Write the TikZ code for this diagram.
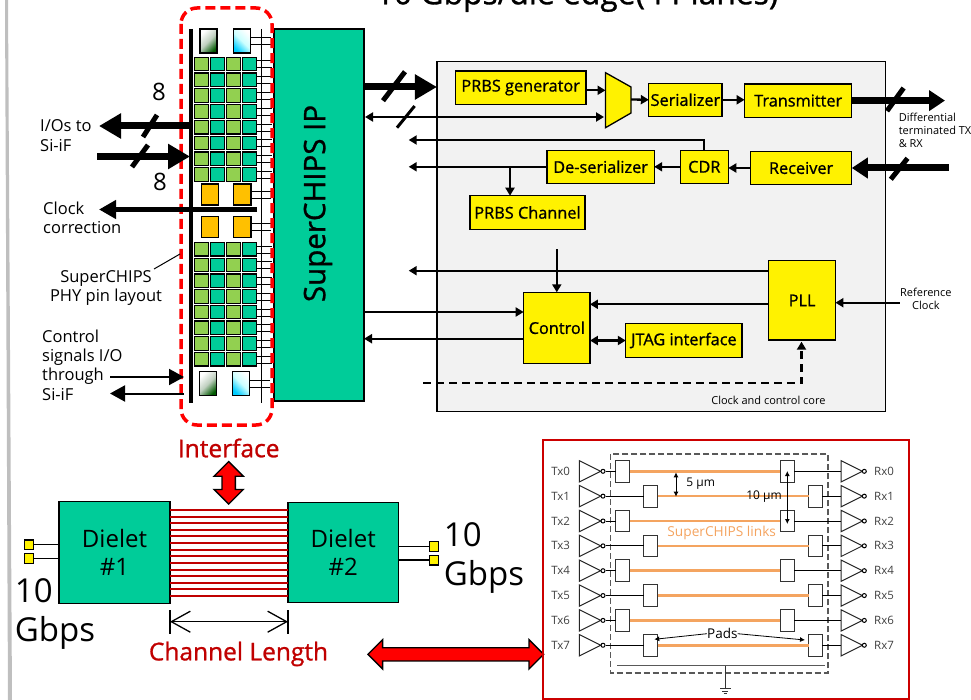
\documentclass[tikz,border=0pt]{standalone}
\usepackage{fontspec}
\setmainfont{Open Sans}
\newfontfamily\semifont{Open Sans}[FakeBold=1]
\usetikzlibrary{positioning,arrows.meta,shapes.geometric,shapes.arrows,calc}
\definecolor{ipteal}{RGB}{0,204,153}
\definecolor{pingreen}{RGB}{146,208,80}
\definecolor{pinorange}{RGB}{255,192,0}
\definecolor{coregray}{RGB}{242,242,242}
\definecolor{darkred}{RGB}{192,0,0}
\definecolor{boxred}{RGB}{204,0,0}
\definecolor{linkorange}{RGB}{244,164,96}
\begin{document}
\begin{tikzpicture}[
  x=1pt, y=-1pt,
  font=\fontsize{15}{18}\selectfont,
  ybox/.style={draw, fill=yellow, line width=1.3pt, inner sep=0pt, outer sep=0pt, font=\fontsize{16.3}{18}\semifont},
  pin/.style={draw, line width=1.2pt, inner sep=0pt, outer sep=0pt, minimum size=13.5pt},
  toppad/.style={draw, line width=1.3pt, inner sep=0pt, outer sep=0pt, minimum width=17pt, minimum height=24pt},
  greenpad/.style={toppad, top color=white, bottom color=green!35!black, middle color=green!25!black!25!white, shading angle=45},
  bluepad/.style={toppad, top color=white, bottom color=cyan!80!blue, middle color=cyan!20!white, shading angle=-45},
  opad/.style={draw, fill=pinorange, line width=1.3pt, inner sep=0pt, outer sep=0pt, minimum width=17.5pt, minimum height=21pt},
  lbl/.style={align=left, inner sep=0pt, anchor=west, font=\fontsize{16.5}{19.3}\selectfont},
  small/.style={align=left, inner sep=0pt, font=\fontsize{11}{13}\selectfont},
  redlbl/.style={inner sep=0pt, text=darkred, font=\fontsize{24.5}{28}\semifont},
  big/.style={align=left, inner sep=0pt, anchor=west, font=\fontsize{33}{38.5}\selectfont},
  fatarr/.style={line width=7pt, -{Triangle[length=22pt,width=24pt]}},
  slash/.style={line width=5pt},
  wirearr/.style={line width=2.3pt, -{Triangle[length=8pt,width=9pt]}},
  redarr/.style={draw, fill=red, line width=1.3pt, double arrow, double arrow head extend=8pt, inner xsep=0pt, inner ysep=6pt},
  pad/.style={draw=black!80, fill=white, line width=1pt, inner sep=0pt, outer sep=0pt, minimum width=13.7pt, minimum height=21.7pt},
  bufr/.style={draw=black!85, fill=white, line width=1pt, isosceles triangle, isosceles triangle stretches, shape border rotate=0, minimum width=21.4pt, minimum height=21.4pt, inner sep=0pt, outer sep=0pt, anchor=lower side},
  bub/.style={draw, fill=white, circle, line width=1pt, inner sep=0pt, minimum size=4pt},
  sigtext/.style={inner sep=0pt, text=black!75, font=\fontsize{11.5}{12}\selectfont},
  link/.style={linkorange, line width=2.5pt}
]
\useasboundingbox (0,0) rectangle (971,700);
\fill[black!25] (5,0) -- (8,0) -- (12,700) -- (8,700) -- cycle;
\node[inner sep=0pt, font=\fontsize{31.8}{36}\semifont] (title) at (577,-4) {10 Gbps/die edge(4 Planes)};

% pin layout column and IP block
\node[draw, fill=ipteal, line width=1.3pt, minimum width=90pt, minimum height=372pt, inner sep=0pt, outer sep=0pt] (ip) at (319,215) {};
\node[rotate=90, inner sep=0pt, font=\fontsize{29.5}{30}\semifont] (iplabel) at (318,203.5) {SuperCHIPS IP};
\draw[line width=4pt] (191,29) -- (191,403);
\draw[line width=1.2pt] (261.5,29) -- (261.5,403);
\foreach \yy [count=\r] in {64,79.8,95.6,111.4,127.2,143,158.8,174.6,249.3,265,280.7,296.4,312.1,327.8,343.5,359.2} {
  \node[pin, fill=pingreen] (pinA\r) at (201.5,\yy) {};
  \node[pin, fill=ipteal] (pinB\r) at (217.5,\yy) {};
  \node[pin, fill=pingreen] (pinC\r) at (233.5,\yy) {};
  \node[pin, fill=ipteal] (pinD\r) at (249.5,\yy) {};
  \draw[line width=1pt] ($(pinD\r.east)+(0,-3)$) -- ++(16,0) ($(pinD\r.east)+(0,4)$) -- ++(16,0);
}
\node[greenpad] (gate1) at (208.5,41) {};
\node[bluepad] (gate2) at (242,41) {};
\node[greenpad] (gate3) at (208,383.5) {};
\node[bluepad] (gate4) at (241.3,383.5) {};
\node[opad] (clk1) at (210,194.5) {};
\node[opad] (clk2) at (242.3,194.5) {};
\node[opad] (clk3) at (210,227) {};
\node[opad] (clk4) at (242.3,227) {};
\foreach \n in {gate2,gate4,clk2,clk4} {
  \draw[line width=1pt] ($(\n.east)+(0,-3)$) -- ++(20,0) ($(\n.east)+(0,4)$) -- ++(20,0);
}
\draw[red, line width=3.5pt, rounded corners=16pt, dash pattern=on 10pt off 5pt] (181,8) rectangle (272,425);

% left side signals
\coordinate (ioout) at (99,126);
\coordinate (ioin) at (97,156.5);
\coordinate (clkout) at (99,209.5);
\coordinate (clkend) at (257,209.5);
\coordinate (ctlin) at (110,377);
\coordinate (ctlout) at (110,393.5);
\draw[fatarr] (191,126) -- (ioout);
\draw[fatarr] (ioin) -- (190,156.5);
\draw[slash] (143,137) -- (157,115);
\draw[slash] (132,167) -- (148,145);
\draw[line width=4.5pt, -{Triangle[length=17pt,width=18pt]}] (clkend) -- (clkout);
\draw[line width=2pt, -{Triangle[length=15pt,width=16pt]}] (ctlin) -- (184,377);
\draw[line width=2pt, -{Triangle[length=15pt,width=16pt]}] (184,393.5) -- (ctlout);
\node[inner sep=0pt, font=\fontsize{24}{26}\selectfont] (eightA) at (159,92) {8};
\node[inner sep=0pt, font=\fontsize{24}{26}\selectfont] (eightB) at (160,182) {8};
\node[lbl] (iolbl) at (40,135.5) {I/Os to\\Si-iF};
\node[lbl] (clklbl) at (43,218) {Clock\\correction};
\node[lbl, align=center, anchor=center] (phylbl) at (106,288) {SuperCHIPS\\PHY pin layout};
\node[lbl] (ctllbl) at (42,365) {Control\\signals I/O\\through\\Si-iF};
\draw[line width=1pt] (154,269) -- (180,254);

% clock and control core
\node[draw, fill=coregray, line width=1.3pt, minimum width=448.5pt, minimum height=350.4pt, inner sep=0pt, outer sep=0pt] (core) at (661.2,236.5) {};
\node[ybox, minimum width=130.5pt, minimum height=33.3pt] (prbsgen) at (520.7,87.6) {PRBS generator};
\node[ybox, minimum width=73.2pt, minimum height=33pt] (ser) at (685.4,99.8) {Serializer};
\node[ybox, minimum width=107.2pt, minimum height=33.3pt] (tx) at (798.2,100.6) {Transmitter};
\node[ybox, minimum width=107.2pt, minimum height=33pt] (deser) at (600.6,166.8) {De-serializer};
\node[ybox, minimum width=48pt, minimum height=33pt] (cdr) at (704.3,166.8) {CDR};
\node[ybox, minimum width=101.3pt, minimum height=33.3pt] (rx) at (801.1,168) {Receiver};
\node[ybox, minimum width=115pt, minimum height=33.6pt] (prbsch) at (527.5,212.5) {PRBS Channel};
\node[ybox, minimum width=66.3pt, minimum height=71pt] (ctrl) at (556.8,327.8) {\raisebox{-3pt}{Control}};
\node[ybox, minimum width=116.2pt, minimum height=33.6pt] (jtag) at (683.9,340.5) {JTAG interface};
\node[ybox, minimum width=66.6pt, minimum height=79.3pt] (pll) at (802.1,300.4) {\raisebox{-7pt}{PLL}};
\draw[fill=yellow, line width=1.3pt] (605.5,72.7) -- (631,87) -- (631,113) -- (605.5,127.7) -- cycle;
\coordinate (muxin) at (605.5,90.3);
\coordinate (muxsel) at (604,117);
\coordinate (muxout) at (631,99.5);
\coordinate (ipsel) at (365,117);
\coordinate (outA) at (408.7,140);
\coordinate (outB) at (408.7,166.8);
\coordinate (outC) at (408.7,270.7);
\coordinate (ctlin2) at (556.8,249.3);
\coordinate (dashin) at (423,383.3);
\coordinate (txend) at (945,100.6);
\coordinate (rxstart) at (948.5,168);
\coordinate (refclk) at (899.8,302.7);
\draw[fatarr] (ip.east |- 0,87) -- (core.west |- 0,87);
\draw[slash] (383,100.7) -- (405,71.7);
\draw[wirearr, {Triangle[length=8pt,width=9pt]}-{Triangle[length=8pt,width=9pt]}] (ipsel) -- (muxsel);
\draw[line width=3pt] (397,127.7) -- (414.6,106);
\draw[wirearr] (prbsgen.east |- muxin) -- (muxin);
\draw[wirearr] (muxout) -- (ser.west);
\draw[wirearr] (ser.east) -- (tx.west |- ser.east);
\draw[fatarr, line width=7pt, -{Triangle[length=16pt,width=20pt]}] (tx.east) -- (txend);
\draw[slash] (887,111) -- (903.6,88);
\draw[fatarr, line width=7pt, -{Triangle[length=16pt,width=20pt]}] (rxstart) -- (rx.east);
\draw[slash] (890.8,179.3) -- (907.5,158.3);
\draw[wirearr] (rx.west) -- (cdr.east |- rx.west);
\draw[wirearr] (cdr.west) -- (deser.east);
\draw[wirearr] (deser.west) -- (outB);
\draw[wirearr] (cdr.north) |- (outA);
\draw[wirearr] (510,166.8) -- (510,195.7);
\draw[wirearr] (ctlin2) -- (ctrl.north);
\draw[wirearr] (pll.west |- outC) -- (outC);
\draw[wirearr] (pll.west |- 0,304.3) -- (ctrl.east |- 0,304.3);
\draw[wirearr] (ip.east |- 0,312) -- (ctrl.west |- 0,312);
\draw[wirearr] (ctrl.west |- 0,338.7) -- (ip.east |- 0,338.7);
\draw[wirearr, {Triangle[length=8pt,width=9pt]}-{Triangle[length=8pt,width=9pt]}] (ctrl.east |- jtag.west) -- (jtag.west);
\draw[wirearr] (refclk) -- (pll.east |- refclk);
\draw[wirearr, dashed, dash pattern=on 8pt off 5pt] (dashin) -| (801.5,341.7);
\node[small, anchor=north west] (difflbl) at (898.6,112.5) {Differential\\terminated TX\\\& RX};
\node[small, align=center] (reflbl) at (925.9,298.8) {Reference\\Clock};
\node[small] (corelbl) at (768.4,400) {Clock and control core};

% dielet pair
\node[draw, fill=ipteal, line width=1.3pt, minimum width=111pt, minimum height=101.6pt, inner sep=0pt, outer sep=0pt, align=center, font=\fontsize{24}{28.4}\selectfont] (diel1) at (114.5,552.5) {Dielet\\\#1};
\node[draw, fill=ipteal, line width=1.3pt, minimum width=110.5pt, minimum height=100.4pt, inner sep=0pt, outer sep=0pt, align=center, font=\fontsize{24}{28.4}\selectfont] (diel2) at (343.2,552.5) {Dielet\\\#2};
\foreach \i in {0,...,13} {
  \draw[darkred, line width=2pt] (diel1.east |- 0,510+6.615*\i) -- (diel2.west |- 0,510+6.615*\i);
}
\node[draw, fill=yellow, line width=1.3pt, minimum size=9.5pt, inner sep=0pt, outer sep=0pt] (padA) at (29,544.7) {};
\node[draw, fill=yellow, line width=1.3pt, minimum size=9.5pt, inner sep=0pt, outer sep=0pt] (padB) at (29,558.5) {};
\node[draw, fill=yellow, line width=1.3pt, minimum size=9.5pt, inner sep=0pt, outer sep=0pt] (padC) at (434,546.4) {};
\node[draw, fill=yellow, line width=1.3pt, minimum size=9.5pt, inner sep=0pt, outer sep=0pt] (padD) at (434,560.1) {};
\draw[line width=1.5pt] (padA.east) -- (diel1.west |- padA.east);
\draw[line width=1.5pt] (padB.east) -- (diel1.west |- padB.east);
\draw[line width=1.5pt] (padC.west) -- (diel2.east |- padC.west);
\draw[line width=1.5pt] (padD.west) -- (diel2.east |- padD.west);
\node[big] (rateA) at (14.7,614) {10\\Gbps};
\node[big] (rateB) at (443.7,558) {10\\Gbps};
\node[redlbl] (iflbl) at (228.7,448) {Interface};
\node[redarr, minimum height=42.5pt, rotate=90] (ifarr) at (228.7,482.8) {};
\coordinate (lenA) at (170,621.7);
\coordinate (lenB) at (288,621.7);
\draw[line width=1.3pt] (170,610) -- (170,634) (288,610) -- (288,634);
\draw[line width=1.3pt, {Straight Barb[length=19pt,width=21pt]}-{Straight Barb[length=19pt,width=21pt]}] (lenA) -- (lenB);
\node[redlbl] (lenlbl) at (238.5,654) {Channel Length};
\node[redarr, minimum height=175.7pt] (linkarr) at (455.8,654.3) {};

% SuperCHIPS link schematic
\node[draw=boxred, line width=2pt, minimum width=365.7pt, minimum height=259.6pt, inner sep=0pt] (linkbox) at (726.2,569.5) {};
\draw[black!65, line width=1.2pt, dash pattern=on 6pt off 3pt] (610.7,454) rectangle (828,673);
\foreach \r [evaluate=\r as \yy using 471.3+24.85*\r, evaluate=\r as \isodd using {int(mod(\r,2))}] in {0,...,7} {
  \node[sigtext] (txlbl\r) at (560.7,\yy) {Tx\r};
  \node[sigtext] (rxlbl\r) at (884,\yy) {Rx\r};
  \node[bufr] (txbuf\r) at (579.3,\yy) {};
  \node[bufr] (rxbuf\r) at (841,\yy) {};
  \node[bub] (txbub\r) at (603,\yy) {};
  \node[bub] (rxbub\r) at (864.3,\yy) {};
  \ifnum\isodd=0
    \node[pad] (padL\r) at (622.8,\yy) {};
    \node[pad] (padR\r) at (787.2,\yy) {};
  \else
    \node[pad] (padL\r) at (650.7,\yy) {};
    \node[pad] (padR\r) at (815.5,\yy) {};
  \fi
  \draw[line width=1pt] (txbub\r) -- (padL\r.west);
  \draw[line width=1pt] (padR\r.east) -- (rxbuf\r.lower side);
  \draw[link] (padL\r.east) -- (padR\r.west);
}
\node[sigtext, text=black, font=\fontsize{12}{14}\selectfont] (fivelbl) at (700.7,484) {5 µm};
\node[sigtext, text=black, font=\fontsize{12}{14}\selectfont] (tenlbl) at (764,497) {10 µm};
\node[sigtext, text=linkorange, font=\fontsize{13.7}{15}\selectfont] (linklbl) at (721.7,533.3) {SuperCHIPS links};
\node[sigtext, text=black, font=\fontsize{13.5}{14}\selectfont] (padlbl) at (722.3,633.7) {Pads};
\draw[line width=1pt, {Latex[length=5pt,width=5pt]}-{Latex[length=5pt,width=5pt]}] (676,472.3) -- (676,496.7);
\draw[line width=1pt, {Latex[length=5pt,width=5pt]}-{Latex[length=5pt,width=5pt]}] (787.3,471) -- (787.3,524);
\draw[line width=0.8pt, -{Latex[length=5pt,width=5pt]}] (padlbl.west) -- (654.3,639.3);
\draw[line width=0.8pt, -{Latex[length=5pt,width=5pt]}] (padlbl.east) -- (805,640);
\draw[black!65, line width=1.2pt] (617.3,665.7) -- (825.3,665.7);
\draw[black!80, line width=1pt] (725,665.7) -- (725,688.3) (720,688.3) -- (730.7,688.3) (722,691) -- (728,691) (723.5,693.7) -- (726.5,693.7);
\end{tikzpicture}
\end{document}
